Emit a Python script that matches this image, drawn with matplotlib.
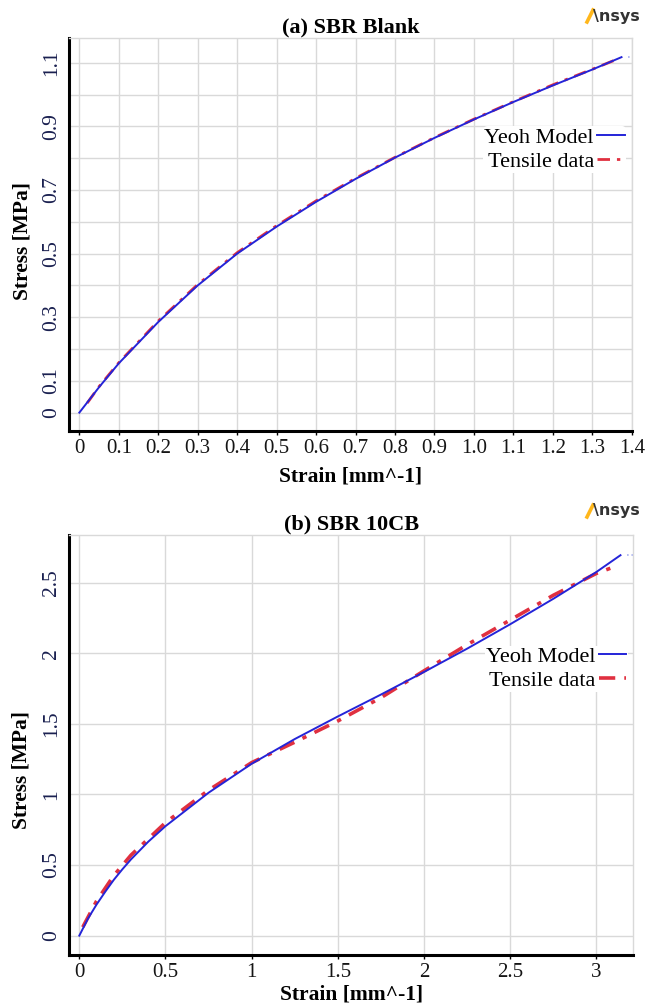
import matplotlib
matplotlib.use("Agg")
import matplotlib.pyplot as plt
from matplotlib.lines import Line2D

plt.rcParams['font.family'] = ['Liberation Serif', 'DejaVu Serif']

# ---- data ----
# (a) SBR Blank
blank_model_x = [0, 0.05, 0.1, 0.2, 0.3, 0.4, 0.5, 0.6, 0.7, 0.8, 0.9, 1.0, 1.1, 1.2, 1.3, 1.374]
blank_model_y = [0, 0.08, 0.155, 0.285, 0.40, 0.50, 0.585, 0.663, 0.735, 0.802, 0.864, 0.922, 0.977, 1.029, 1.079, 1.118]
blank_test_x = [0.02, 0.05, 0.1, 0.2, 0.3, 0.4, 0.5, 0.6, 0.7, 0.8, 0.9, 1.0, 1.1, 1.2, 1.3, 1.37]
blank_test_y = [0.03, 0.082, 0.157, 0.288, 0.403, 0.503, 0.588, 0.666, 0.737, 0.803, 0.865, 0.923, 0.978, 1.031, 1.080, 1.115]

# (b) SBR 10CB
cb_model_x = [0, 0.05, 0.1, 0.15, 0.2, 0.25, 0.3, 0.4, 0.5, 0.75, 1.0, 1.25, 1.5, 1.75, 2.0, 2.25, 2.5, 2.75, 3.0, 3.14]
cb_model_y = [0, 0.12, 0.22, 0.31, 0.395, 0.47, 0.54, 0.665, 0.775, 1.012, 1.217, 1.392, 1.552, 1.707, 1.867, 2.032, 2.205, 2.385, 2.575, 2.694]
cb_test_x = [0.02, 0.1, 0.2, 0.3, 0.5, 0.75, 1.0, 1.25, 1.5, 1.75, 2.0, 2.25, 2.5, 2.75, 3.0, 3.1]
cb_test_y = [0.06, 0.245, 0.425, 0.57, 0.80, 1.03, 1.225, 1.37, 1.52, 1.685, 1.875, 2.06, 2.235, 2.41, 2.565, 2.61]

blank_xticks = [0, 0.1, 0.2, 0.3, 0.4, 0.5, 0.6, 0.7, 0.8, 0.9, 1.0, 1.1, 1.2, 1.3, 1.4]
blank_xlabels = ['0', '0.1', '0.2', '0.3', '0.4', '0.5', '0.6', '0.7', '0.8', '0.9', '1.0', '1.1', '1.2', '1.3', '1.4']
blank_yticks = [0, 0.1, 0.2, 0.3, 0.4, 0.5, 0.6, 0.7, 0.8, 0.9, 1.0, 1.1]
blank_ylabels = ['0', '0.1', '', '0.3', '', '0.5', '', '0.7', '', '0.9', '', '1.1']

cb_xticks = [0, 0.5, 1, 1.5, 2, 2.5, 3]
cb_xlabels = ['0', '0.5', '1', '1.5', '2', '2.5', '3']
cb_yticks = [0, 0.5, 1, 1.5, 2, 2.5]
cb_ylabels = ['0', '0.5', '1', '1.5', '2', '2.5']

BLUE = '#2424d8'
RED = '#e03040'
GRID = '#d9d9d9'

fig = plt.figure(figsize=(6.54, 10.05), dpi=100)
ax_a = fig.add_axes([0.106, 0.5711, 0.860, 0.3907])
ax_b = fig.add_axes([0.106, 0.0498, 0.862, 0.418])


def style(ax, mx, my, tx, ty, xt, xl, yt, yl, xlim, ylim, title, leg_y, ylab_y, xlab_y, red_lw):
    ax.plot(tx, ty, color=RED, lw=red_lw, ls=(0, (4.5, 2.5, 1.2, 2.5)), label='Tensile data', zorder=3)
    ax.plot(mx, my, color=BLUE, lw=1.4, label='Yeoh Model', zorder=4)
    ax.plot([mx[-1] + 0.012 * (xlim[1] - xlim[0]), xlim[1]], [my[-1], my[-1]],
            color='#a8b0f0', lw=1.2, ls=':', zorder=2)
    ax.set_xlim(*xlim)
    ax.set_ylim(*ylim)
    ax.set_xticks(xt)
    ax.set_xticklabels(xl, fontsize=15, color='#151515')
    ax.set_yticks(yt)
    ax.set_yticklabels(yl, fontsize=15.5, color='#1a2050', rotation=90, va='center')
    ax.tick_params(axis='x', length=3, width=1, pad=3, color='black')
    ax.tick_params(axis='y', length=0, pad=6)
    ax.grid(True, color=GRID, lw=1)
    ax.set_axisbelow(True)
    for s in ['top', 'right']:
        ax.spines[s].set_color(GRID)
        ax.spines[s].set_linewidth(1)
    for s in ['left', 'bottom']:
        ax.spines[s].set_color('black')
        ax.spines[s].set_linewidth(2.2)
    ax.set_title(title, fontsize=16, fontweight='bold', pad=4)
    ax.set_ylabel('Stress [MPa]', fontsize=15.5, fontweight='bold', va='center')
    ax.yaxis.set_label_coords(-0.084, ylab_y)
    ax.set_xlabel('Strain [mm^-1]', fontsize=15.5, fontweight='bold', va='center')
    ax.xaxis.set_label_coords(0.5, xlab_y)
    h, l = ax.get_legend_handles_labels()
    leg = ax.legend(h[::-1], l[::-1], loc='center right', bbox_to_anchor=(1.0, leg_y),
                    markerfirst=False, fontsize=16, handlelength=1.25, handletextpad=0.15,
                    labelspacing=0.15, borderpad=0.05, borderaxespad=0.25,
                    frameon=True, facecolor='white', edgecolor='none', framealpha=1)
    for t in leg.get_texts():
        t.set_ha('right')


style(ax_a, blank_model_x, blank_model_y, blank_test_x, blank_test_y,
      blank_xticks, blank_xlabels, blank_yticks, blank_ylabels,
      (-0.0254, 1.4), (-0.058, 1.177), '(a) SBR Blank', 0.717, 0.484, -0.115, 2.0)
style(ax_b, cb_model_x, cb_model_y, cb_test_x, cb_test_y,
      cb_xticks, cb_xlabels, cb_yticks, cb_ylabels,
      (-0.058, 3.213), (-0.137, 2.838), '(b) SBR 10CB', 0.681, 0.44, -0.094, 2.6)

# Ansys marks, top right of each panel
for ypix in [16, 511]:
    fig.add_artist(Line2D([587 / 654, 593 / 654], [1 - (ypix + 6) / 1005, 1 - (ypix - 6) / 1005],
                          color='#ffb71b', lw=2.6, transform=fig.transFigure))
    fig.text(593 / 654, 1 - ypix / 1005, '\\nsys', color='#333333', fontsize=11.5,
             fontweight='bold', family='DejaVu Sans', ha='left', va='center')

fig.savefig('out.png', dpi=100, facecolor='white')
